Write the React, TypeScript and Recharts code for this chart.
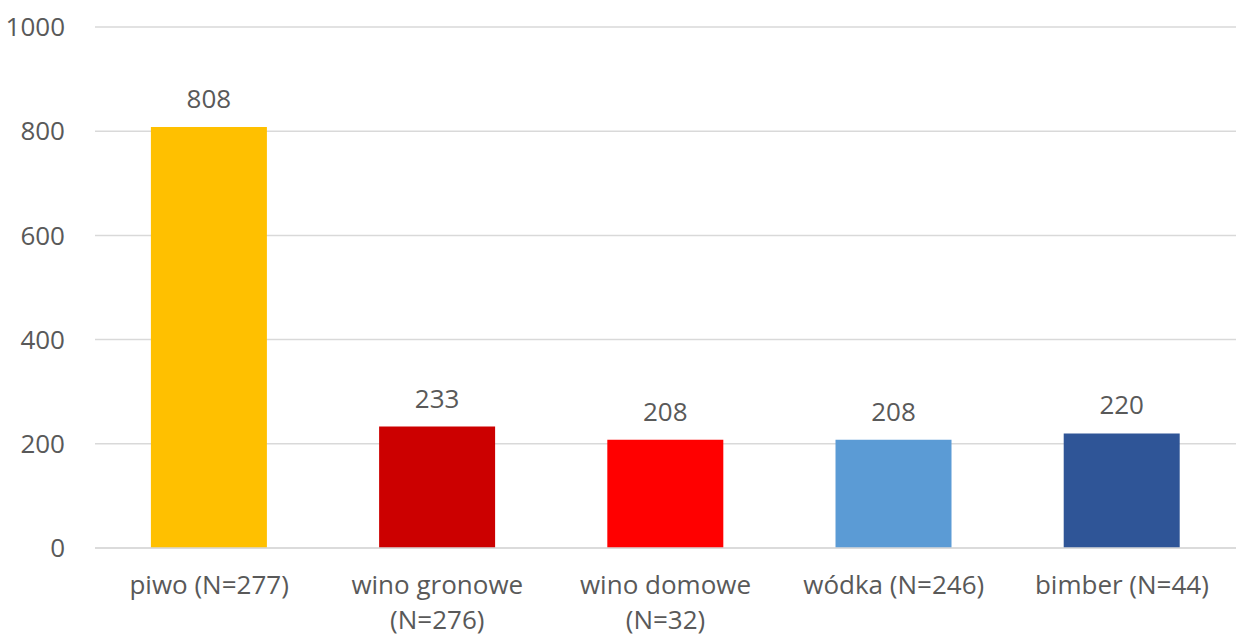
import { BarChart, Bar, XAxis, YAxis, CartesianGrid, Cell, LabelList } from 'recharts';

const categories = ['piwo (N=277)', 'wino gronowe (N=276)', 'wino domowe (N=32)', 'wódka (N=246)', 'bimber (N=44)'];
const values = [808, 233, 208, 208, 220];
const barColors = ['#FFC000', '#CC0000', '#FF0000', '#5B9BD5', '#2F5597'];
const yTicks = [0, 200, 400, 600, 800, 1000];

const FONT = '"Open Sans", sans-serif';
const TEXT = '#595959';

const data = categories.map((name, i) => ({ name, value: values[i] }));

// long labels wrap before the "(N=..)" part, like the original
function splitLabel(label: string) {
  if (label.length <= 14) return [label];
  const idx = label.indexOf(' (');
  return idx > 0 ? [label.slice(0, idx), label.slice(idx + 1)] : [label];
}

function XTick(props: any) {
  const { x, y, payload } = props;
  const lines = splitLabel(payload.value);
  return (
    <g transform={`translate(${x},${y})`}>
      {lines.map((line, i) => (
        <text
          key={i}
          x={0}
          y={28 + i * 35}
          textAnchor="middle"
          dominantBaseline="central"
          fill={TEXT}
          fontSize={26}
          fontFamily={FONT}
        >
          {line}
        </text>
      ))}
    </g>
  );
}

export default function App() {
  return (
    <div style={{ position: 'absolute', left: 0, top: 0, width: 1236, height: 637, background: '#fff' }}>
      <BarChart
        width={1236}
        height={637}
        data={data}
        margin={{ top: 27, right: 0, bottom: 0, left: 0 }}
        barCategoryGap="24.5%"
      >
        <CartesianGrid vertical={false} stroke="#D9D9D9" strokeWidth={1.5} />
        <XAxis
          dataKey="name"
          axisLine={{ stroke: '#D9D9D9', strokeWidth: 1.5 }}
          tickLine={false}
          interval={0}
          height={89}
          tick={<XTick />}
        />
        <YAxis
          domain={[0, 1000]}
          ticks={yTicks}
          width={95}
          axisLine={false}
          tickLine={false}
          tickSize={0}
          tickMargin={30}
          tick={{ fill: TEXT, fontSize: 26, fontFamily: FONT }}
        />
        <Bar dataKey="value" isAnimationActive={false}>
          {data.map((d, i) => (
            <Cell key={d.name} fill={barColors[i]} />
          ))}
          <LabelList
            dataKey="value"
            position="top"
            offset={19}
            fill={TEXT}
            fontSize={26}
            fontFamily={FONT}
          />
        </Bar>
      </BarChart>
    </div>
  );
}
